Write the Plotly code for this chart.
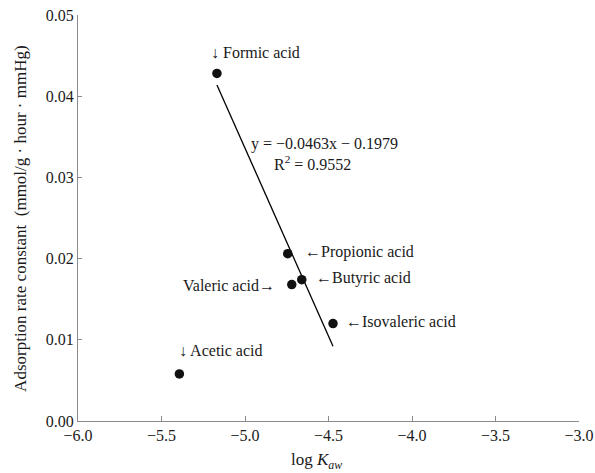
import plotly.graph_objects as go

# Data
acids = ["Formic acid", "Propionic acid", "Butyric acid", "Valeric acid", "Isovaleric acid", "Acetic acid"]
log_kaw = [-5.168, -4.744, -4.660, -4.720, -4.473, -5.393]
rate_const = [0.0428, 0.0206, 0.0174, 0.0168, 0.0120, 0.0058]

# Regression line shown on chart (fitted coefficients and x extent)
slope = -0.0463
intercept = -0.1979
fit_x = [-5.168, -4.473]
fit_y = [slope * v + intercept for v in fit_x]

x_ticks = [-6.0, -5.5, -5.0, -4.5, -4.0, -3.5, -3.0]
y_ticks = [0.00, 0.01, 0.02, 0.03, 0.04, 0.05]

FONT = "Liberation Serif, Times New Roman, serif"
AX = "#8a8a8a"
FS = 16
TXT = "#1a1a1a"

fig = go.Figure()
fig.add_trace(go.Scatter(x=fit_x, y=fit_y, mode="lines",
                         line=dict(color="black", width=1.3), showlegend=False,
                         hoverinfo="skip"))
fig.add_trace(go.Scatter(x=log_kaw, y=rate_const, mode="markers",
                         marker=dict(color="#111111", size=9.5), showlegend=False,
                         text=acids))

labels = [
    ("↓ Formic acid", -5.213, 0.0454, "left"),
    ("←Propionic acid", -4.655, 0.0208, "left"),
    ("←Butyric acid", -4.587, 0.01763, "left"),
    ("Valeric acid→", -4.806, 0.01665, "right"),
    ("←Isovaleric acid", -4.407, 0.01221, "left"),
    ("↓ Acetic acid", -5.405, 0.00863, "left"),
]
for t, x, y, anc in labels:
    fig.add_annotation(x=x, y=y, xref="x", yref="y", text=t, showarrow=False,
                       xanchor=anc, yanchor="middle",
                       font=dict(family=FONT, size=FS, color=TXT))

fig.add_annotation(x=-4.521, y=0.03416, xref="x", yref="y",
                   text="y = −0.0463x − 0.1979", showarrow=False,
                   xanchor="center", yanchor="middle",
                   font=dict(family=FONT, size=FS, color=TXT))
fig.add_annotation(x=-4.593, y=0.0318, xref="x", yref="y",
                   text="R<sup>2</sup> = 0.9552", showarrow=False,
                   xanchor="center", yanchor="middle",
                   font=dict(family=FONT, size=FS, color=TXT))

# Axis titles
fig.add_annotation(x=-0.116, y=0.5, xref="paper", yref="paper", textangle=-90,
                   text="Adsorption rate constant  (mmol/g · hour · mmHg)", showarrow=False,
                   xanchor="center", yanchor="middle",
                   font=dict(family=FONT, size=17, color=TXT))
fig.add_annotation(x=0.477, y=0, xref="paper", yref="paper", yanchor="top", yshift=-27,
                   text="log <i>K</i><sub><i>aw</i></sub>", showarrow=False, xanchor="center",
                   font=dict(family=FONT, size=17, color=TXT))

fig.update_xaxes(range=[-6.0, -3.0], tickvals=x_ticks,
                 ticktext=[f"{v:.1f}".replace("-", "−") for v in x_ticks],
                 showgrid=False, zeroline=False, showline=True, linecolor=AX, linewidth=1,
                 ticks="inside", tickcolor=AX, ticklen=5, automargin=False,
                 ticklabeloverflow="allow",
                 tickfont=dict(family=FONT, size=FS, color=TXT))
fig.update_yaxes(range=[0.0, 0.05], tickvals=y_ticks,
                 ticktext=[f"{v:.2f}" for v in y_ticks],
                 showgrid=False, zeroline=False, showline=True, linecolor=AX, linewidth=1,
                 ticks="inside", tickcolor=AX, ticklen=4, automargin=False,
                 ticklabeloverflow="allow",
                 tickfont=dict(family=FONT, size=FS, color=TXT))

fig.update_layout(width=595, height=473, plot_bgcolor="white", paper_bgcolor="white",
                  margin=dict(l=78, r=16, t=15, b=52), showlegend=False)

fig.write_html("out.html", config={"displayModeBar": False},
               post_script="document.body.style.margin='0';")
